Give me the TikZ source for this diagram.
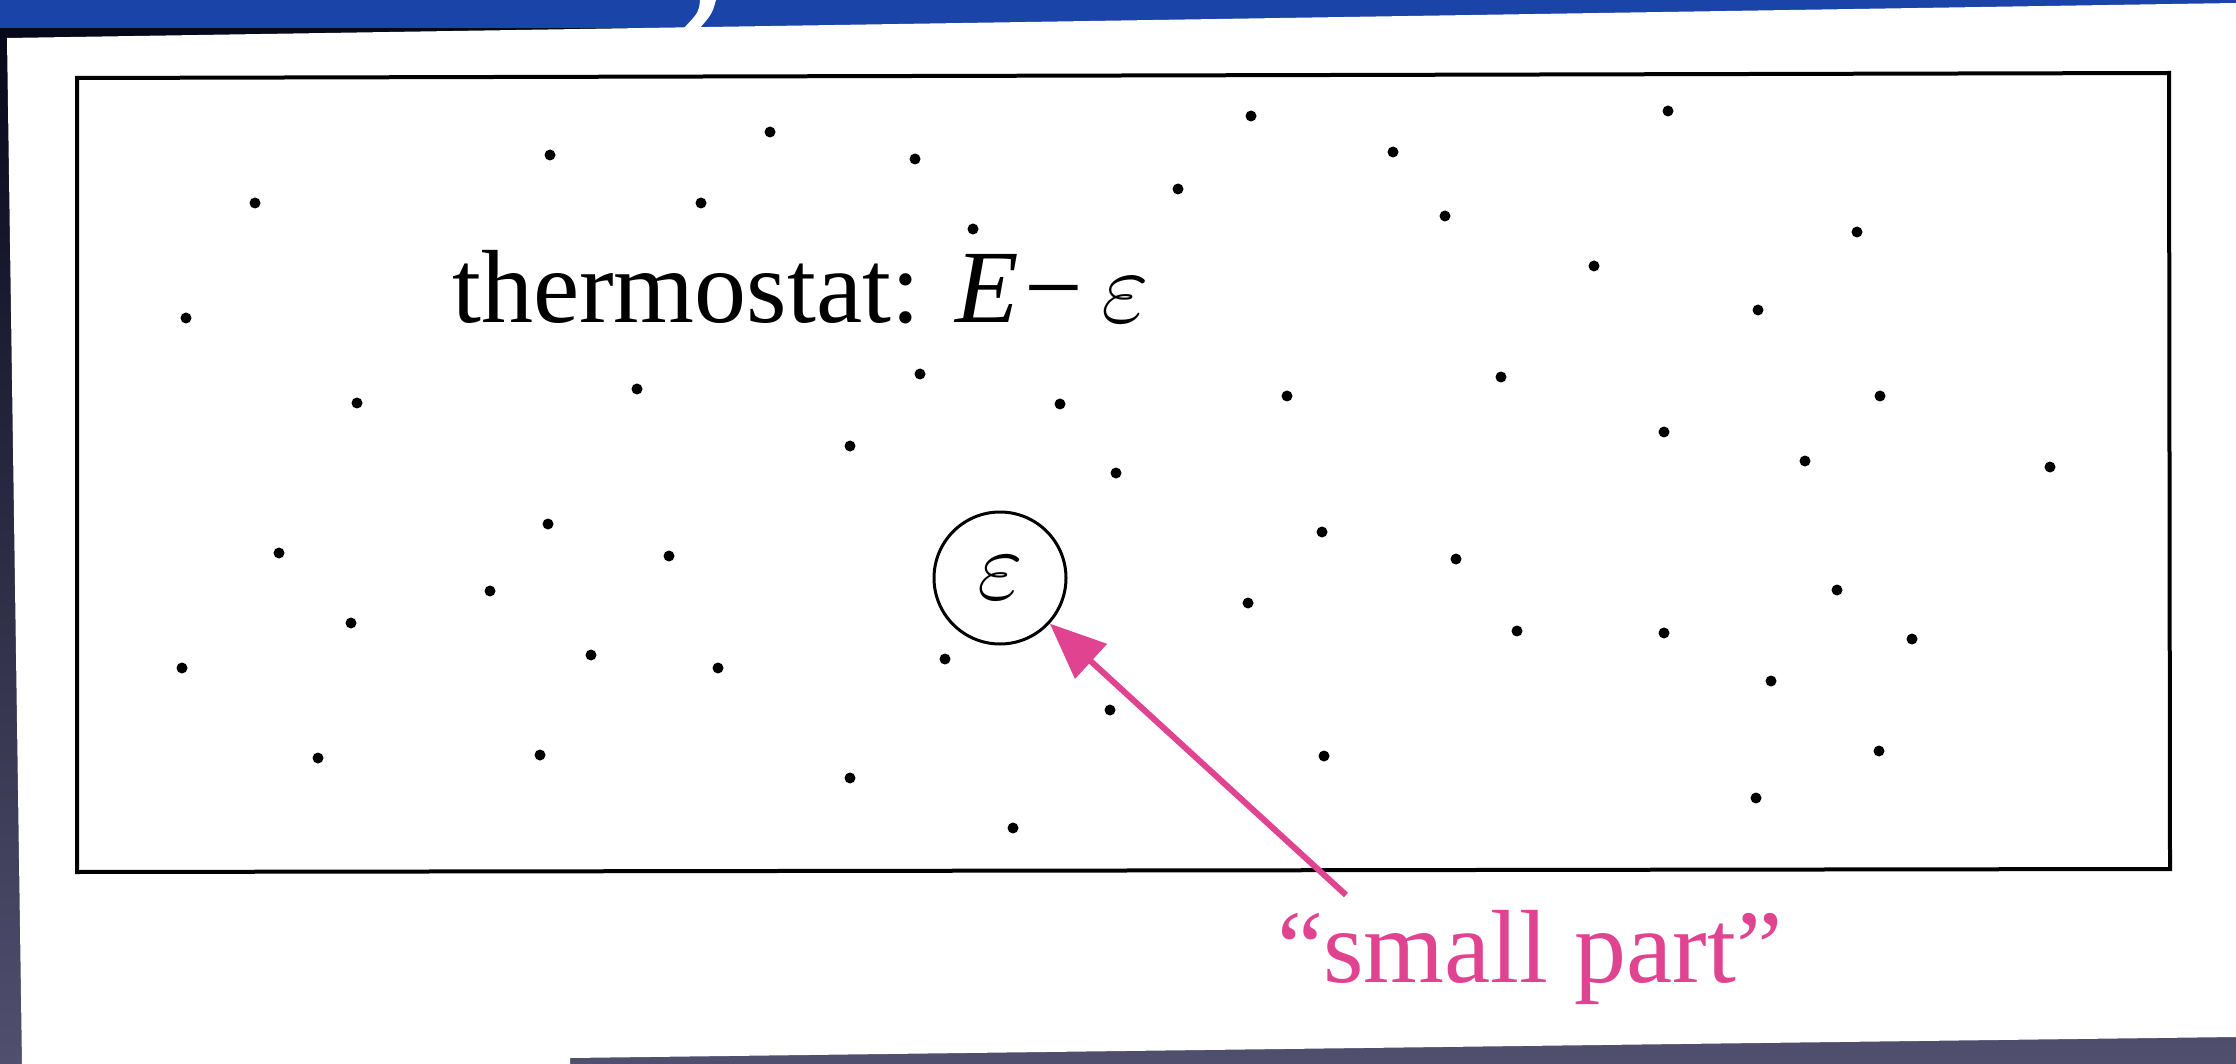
\RequirePackage{fix-cm}
\documentclass[tikz,border=0pt]{standalone}
\usepackage{fontspec}
\setmainfont{Liberation Serif}
\usetikzlibrary{arrows.meta}
\definecolor{slideblue}{RGB}{26,68,168}
\definecolor{darktop}{RGB}{6,6,24}
\definecolor{darkbot}{RGB}{80,79,110}
\definecolor{pinkc}{RGB}{224,68,145}
\tikzset{
  particle/.style={fill=black},
  bigtext/.style={font=\fontsize{104}{112}\selectfont, inner sep=0pt, anchor=base west},
  boxline/.style={draw=black, line width=4pt, line join=miter},
  smallpart/.style={draw=black, circle, line width=3pt, minimum size=132pt, inner sep=0pt, font=\fontsize{100}{110}\selectfont},
  pinkarrow/.style={draw=pinkc, line width=6pt, -{Triangle[length=56pt,width=46pt]}},
}
\begin{document}
\begin{tikzpicture}[x=1pt,y=-1pt]
\useasboundingbox (0,0) rectangle (2236,1064);
% slide background
\shade[top color=darktop, bottom color=darkbot] (0,0) rectangle (2236,1064);
\fill[slideblue] (0,0) -- (2236,0) -- (2236,4) -- (685,28) -- (0,28) -- cycle;
\fill[white] (7,38) -- (2236,3) -- (2236,1037) -- (570,1058) -- (570,1064) -- (22,1064) -- cycle;
\fill[white] (700,0) .. controls (699,12) .. (683,29) -- (699,29) .. controls (712,14) .. (716,0) -- cycle;
% thermostat box
\draw[boxline] (77,78) -- (2169,73) -- (2170,869) -- (77,872) -- cycle;
% particles
\foreach \px/\py in {550/155, 770/132, 255/203, 701/203, 186/318, 357/403, 637/389,
  915/159, 1251/116, 1178/189, 1393/152, 1445/216, 973/229, 920/374, 1060/404, 1287/396, 850/446, 1116/473,
  1668/111, 1857/232, 1594/266, 1758/310, 1501/377, 1880/396, 1664/432, 1805/461, 2050/467,
  279/553, 548/524, 669/556, 490/591, 351/623, 182/668, 591/655, 718/668, 318/758, 540/755,
  1322/532, 1456/559, 1248/603, 945/659, 1110/710, 1324/756, 850/778, 1013/828,
  1837/590, 1517/631, 1664/633, 1912/639, 1771/681, 1879/751, 1756/798}
  \fill[particle] (\px,\py) circle (5.5);
% texts
\node[bigtext] (thermo) at (452,323) {thermostat:\hspace{0.34em}\textit{E}\hspace{0.05em}−\hspace{0.18em}$\varepsilon$};
\node[smallpart] (eps) at (1000,578) {\raisebox{-8pt}{$\varepsilon$}};
\node[bigtext, text=pinkc] (label) at (1277,982) {“small part”};
\coordinate (tail) at (1346,895);
\draw[pinkarrow] (tail) -- (eps);
\end{tikzpicture}
\end{document}
